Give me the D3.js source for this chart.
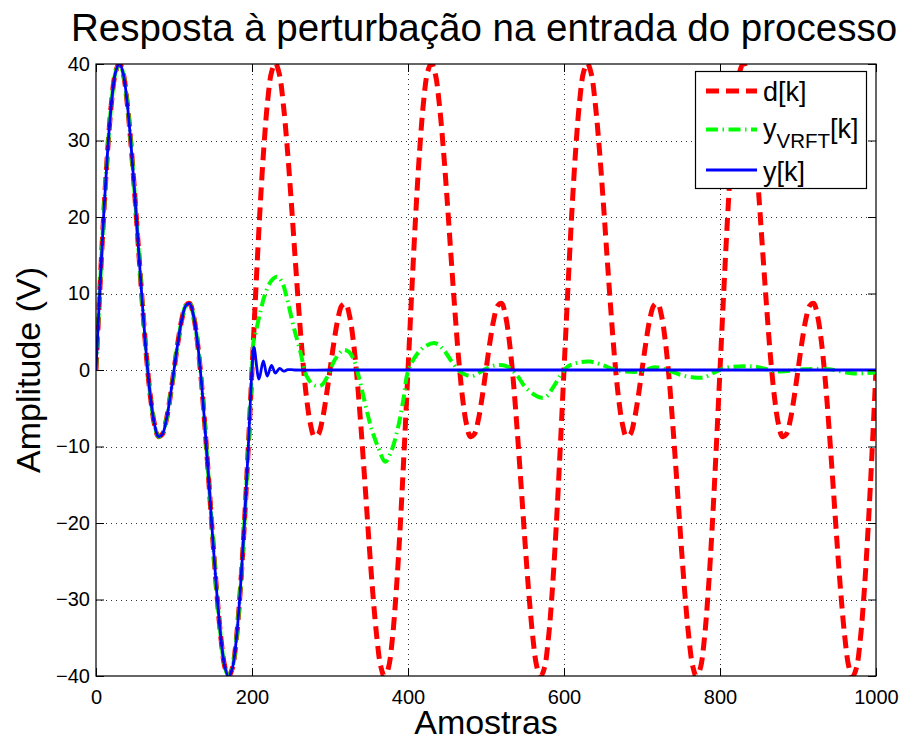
<!DOCTYPE html>
<html>
<head>
<meta charset="utf-8">
<script src="https://cdn.jsdelivr.net/npm/d3@7"></script>
<style>
  body { margin: 0; background: #fff; }
  svg { display: block; font-family: "Liberation Sans", Arial, Helvetica, sans-serif; }
</style>
</head>
<body>
<svg id="chart" width="900" height="740"></svg>
<script>
// d[k]: disturbance, read every 5 samples
const dSamples = d3.range(0, 1001, 5);
const dValues = [
  0, 10.6, 20.5, 28.8, 35.1, 38.9, 40.1, 38.7, 34.9, 29.3, 22.5, 15.1, 7.9, 1.4, -3.7, -7.1, -8.7, -8.4, -6.6, -3.6,
  0, 3.6, 6.6, 8.4, 8.7, 7.1, 3.7, -1.4, -7.9, -15.1, -22.5, -29.3, -34.9, -38.7, -40.1, -38.9, -35.1, -28.8, -20.5, -10.6,
  0, 10.6, 20.5, 28.8, 35.1, 38.9, 40.1, 38.7, 34.9, 29.3, 22.5, 15.1, 7.9, 1.4, -3.7, -7.1, -8.7, -8.4, -6.6, -3.6,
  0, 3.6, 6.6, 8.4, 8.7, 7.1, 3.7, -1.4, -7.9, -15.1, -22.5, -29.3, -34.9, -38.7, -40.1, -38.9, -35.1, -28.8, -20.5, -10.6,
  0, 10.6, 20.5, 28.8, 35.1, 38.9, 40.1, 38.7, 34.9, 29.3, 22.5, 15.1, 7.9, 1.4, -3.7, -7.1, -8.7, -8.4, -6.6, -3.6,
  0, 3.6, 6.6, 8.4, 8.7, 7.1, 3.7, -1.4, -7.9, -15.1, -22.5, -29.3, -34.9, -38.7, -40.1, -38.9, -35.1, -28.8, -20.5, -10.6,
  0, 10.6, 20.5, 28.8, 35.1, 38.9, 40.1, 38.7, 34.9, 29.3, 22.5, 15.1, 7.9, 1.4, -3.7, -7.1, -8.7, -8.4, -6.6, -3.6,
  0, 3.6, 6.6, 8.4, 8.7, 7.1, 3.7, -1.4, -7.9, -15.1, -22.5, -29.3, -34.9, -38.7, -40.1, -38.9, -35.1, -28.8, -20.5, -10.6,
  0, 10.6, 20.5, 28.8, 35.1, 38.9, 40.1, 38.7, 34.9, 29.3, 22.5, 15.1, 7.9, 1.4, -3.7, -7.1, -8.7, -8.4, -6.6, -3.6,
  0, 3.6, 6.6, 8.4, 8.7, 7.1, 3.7, -1.4, -7.9, -15.1, -22.5, -29.3, -34.9, -38.7, -40.1, -38.9, -35.1, -28.8, -20.5, -10.6,
  0
];

// y_VRFT[k]
const vrftSamples = [
  0, 5, 10, 15, 20, 25, 30, 35, 40, 45, 50, 55, 60, 65, 70, 75, 80, 85, 90, 95,
  100, 105, 110, 115, 120, 125, 130, 135, 140, 145, 150, 155, 160, 165, 170, 175, 180, 185, 190, 195,
  200, 202, 205, 210, 217, 225, 232, 238, 245, 253, 262, 270, 280, 289, 298, 306, 317, 324, 330, 337,
  345, 353, 362, 371, 379, 387, 394, 400, 411, 422, 435, 446, 456, 468, 482, 497, 511, 526, 539, 550,
  560, 570, 577, 584, 595, 603, 615, 633, 648, 663, 680, 697, 717, 735, 750, 770, 781, 795, 811, 843,
  875, 907, 939, 971, 1000
];
const vrftValues = [
  0, 10.6, 20.5, 28.8, 35.1, 38.9, 40.1, 38.7, 34.9, 29.3, 22.5, 15.1, 7.9, 1.4, -3.7, -7.1, -8.7, -8.4, -6.6, -3.6,
  0, 3.6, 6.6, 8.4, 8.7, 7.1, 3.7, -1.4, -7.9, -15.1, -22.5, -29.3, -34.9, -38.7, -40.1, -38.9, -35.1, -28.8, -20.5, -10.6,
  0, 3.8, 5.0, 7.3, 10.0, 11.7, 12.2, 11.6, 9.3, 5.8, 2.4, -0.8, -2.0, -2.0, -0.6, 1.3, 2.6, 2.4, 1.5, -0.9,
  -4.4, -7.6, -10.2, -12.0, -10.5, -7.6, -3.9, -0.2, 2.0, 3.1, 3.5, 2.6, 1.1, -0.3, -0.8, 0, 0.6, 0.5, -0.6, -2.2,
  -3.1, -3.6, -3.5, -2.6, -0.8, 0.3, 0.9, 1.1, 0.7, 0.1, -0.2, -0.2, 0.35, -0.1, -0.65, -1.0, -0.9, -0.2, 0.35, 0.45,
  -0.2, 0.1, 0.1, -0.45, -0.3
];

// y[k]
const ySamples = [
  0, 5, 10, 15, 20, 25, 30, 35, 40, 45, 50, 55, 60, 65, 70, 75, 80, 85, 90, 95,
  100, 105, 110, 115, 120, 125, 130, 135, 140, 145, 150, 155, 160, 165, 170, 175, 180, 185, 190, 195,
  200, 202.5, 209, 214.5, 219.5, 225, 230, 235.5, 240.5, 246, 255, 300, 400, 500, 600, 700, 800, 900, 1000
];
const yValues = [
  0, 10.6, 20.5, 28.8, 35.1, 38.9, 40.1, 38.7, 34.9, 29.3, 22.5, 15.1, 7.9, 1.4, -3.7, -7.1, -8.7, -8.4, -6.6, -3.6,
  0, 3.6, 6.6, 8.4, 8.7, 7.1, 3.7, -1.4, -7.9, -15.1, -22.5, -29.3, -34.9, -38.7, -40.1, -38.9, -35.1, -28.8, -20.5, -10.6,
  0, 3.0, -1.2, 1.2, -0.8, 0.6, -0.4, 0.2, -0.15, 0.05, 0, 0, 0, 0, 0, 0, 0, 0, 0
];

const xTicks = [0, 200, 400, 600, 800, 1000];
const yTicks = [-40, -30, -20, -10, 0, 10, 20, 30, 40];
const legendLabels = ["d[k]", "y_VRFT[k]", "y[k]"];

const margin = { left: 96, right: 24, top: 64, bottom: 64 };
const W = 900, H = 740;
const plotW = W - margin.left - margin.right;
const plotH = H - margin.top - margin.bottom;

const svg = d3.select('#chart');

const x = d3.scaleLinear().domain([0, 1000]).range([margin.left, margin.left + plotW]);
const y = d3.scaleLinear().domain([-40, 40]).range([margin.top + plotH, margin.top]);

svg.append('defs').append('clipPath').attr('id', 'plotclip')
  .append('rect')
  .attr('x', margin.left).attr('y', margin.top)
  .attr('width', plotW).attr('height', plotH);

// grid
const grid = svg.append('g')
  .attr('stroke', '#333')
  .attr('stroke-width', 1)
  .attr('stroke-dasharray', '1,4');

grid.selectAll('line.gx')
  .data(xTicks.slice(1, -1))
  .join('line')
  .attr('x1', d => Math.round(x(d)) + 0.5).attr('x2', d => Math.round(x(d)) + 0.5)
  .attr('y1', margin.top).attr('y2', margin.top + plotH);

grid.selectAll('line.gy')
  .data(yTicks.slice(1, -1))
  .join('line')
  .attr('y1', d => Math.round(y(d)) + 0.5).attr('y2', d => Math.round(y(d)) + 0.5)
  .attr('x1', margin.left).attr('x2', margin.left + plotW);

// series
const series = [
  { k: dSamples, v: dValues, color: '#ff0000', width: 5, dash: '13,7' },
  { k: vrftSamples, v: vrftValues, color: '#00ff00', width: 4, dash: '12,4.5,1.5,4.5' },
  { k: ySamples, v: yValues, color: '#0000ff', width: 2.8, dash: null }
];

const line = d3.line()
  .x(p => x(p[0]))
  .y(p => y(p[1]))
  .curve(d3.curveCatmullRom.alpha(0.5));

const plot = svg.append('g').attr('clip-path', 'url(#plotclip)');
series.forEach(s => {
  plot.append('path')
    .datum(s.k.map((k, i) => [k, s.v[i]]))
    .attr('fill', 'none')
    .attr('stroke', s.color)
    .attr('stroke-width', s.width)
    .attr('stroke-dasharray', s.dash)
    .attr('d', line);
});

// axes box and ticks
const fmt = d3.format('d');
const axes = svg.append('g').attr('font-size', 20).attr('fill', '#000');

axes.append('g')
  .attr('transform', `translate(0,${margin.top + plotH})`)
  .call(d3.axisBottom(x).tickValues(xTicks).tickFormat(fmt).tickSizeInner(-8).tickSizeOuter(0).tickPadding(14))
  .call(g => g.select('.domain').remove())
  .call(g => g.selectAll('text').attr('font-size', 20).attr('font-family', null));

axes.append('g')
  .attr('transform', `translate(${margin.left},0)`)
  .call(d3.axisLeft(y).tickValues(yTicks).tickFormat(fmt).tickSizeInner(-8).tickSizeOuter(0).tickPadding(6))
  .call(g => g.select('.domain').remove())
  .call(g => g.selectAll('text').attr('font-size', 20).attr('font-family', null));

axes.append('g')
  .attr('transform', `translate(0,${margin.top})`)
  .call(d3.axisTop(x).tickValues(xTicks).tickFormat('').tickSizeInner(-8).tickSizeOuter(0))
  .call(g => g.select('.domain').remove());

axes.append('g')
  .attr('transform', `translate(${margin.left + plotW},0)`)
  .call(d3.axisRight(y).tickValues(yTicks).tickFormat('').tickSizeInner(-8).tickSizeOuter(0))
  .call(g => g.select('.domain').remove());

svg.append('rect')
  .attr('x', margin.left).attr('y', margin.top)
  .attr('width', plotW).attr('height', plotH)
  .attr('fill', 'none')
  .attr('stroke', '#000')
  .attr('stroke-width', 1.2);

// labels
svg.append('text')
  .attr('x', 484).attr('y', 41)
  .attr('text-anchor', 'middle')
  .attr('font-size', 38.5)
  .text('Resposta à perturbação na entrada do processo');

svg.append('text')
  .attr('x', margin.left + plotW / 2).attr('y', 734)
  .attr('text-anchor', 'middle')
  .attr('font-size', 34)
  .text('Amostras');

svg.append('text')
  .attr('transform', `translate(40,${margin.top + plotH / 2}) rotate(-90)`)
  .attr('text-anchor', 'middle')
  .attr('font-size', 34)
  .text('Amplitude (V)');

// legend
const legend = svg.append('g');
legend.append('rect')
  .attr('x', 695.5).attr('y', 71.5)
  .attr('width', 171).attr('height', 117)
  .attr('fill', '#fff')
  .attr('stroke', '#000')
  .attr('stroke-width', 1.2);

const rowY = [91, 129.5, 170];
const textY = [101, 137.5, 181];
series.forEach((s, i) => {
  legend.append('line')
    .attr('x1', 706).attr('x2', 757)
    .attr('y1', rowY[i]).attr('y2', rowY[i])
    .attr('stroke', s.color)
    .attr('stroke-width', s.width)
    .attr('stroke-dasharray', s.dash);

  const t = legend.append('text')
    .attr('x', 763).attr('y', textY[i])
    .attr('font-size', 27);
  const label = legendLabels[i];
  if (label.includes('_')) {
    const [base, rest] = label.split('_');
    const sub = rest.replace('[k]', '');
    t.append('tspan').text(base);
    t.append('tspan').attr('font-size', 20.5).attr('dy', 10).text(sub);
    t.append('tspan').attr('dy', -10).text('[k]');
  } else {
    t.text(label);
  }
});
</script>
</body>
</html>
